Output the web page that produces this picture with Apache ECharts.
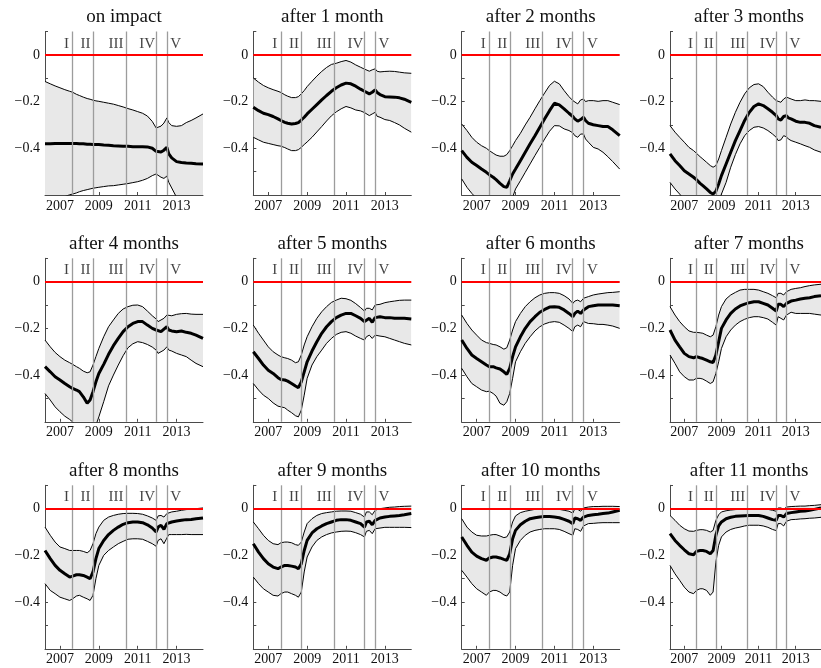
<!DOCTYPE html>
<html>
<head>
<meta charset="utf-8">
<script src="https://cdn.jsdelivr.net/npm/echarts@6/dist/echarts.min.js"></script>
<style>
  html, body { margin: 0; padding: 0; background: #ffffff; }
  #chart { width: 821px; height: 668px; }
</style>
</head>
<body>
<div id="chart"></div>
<script>
// Sample dates (decimal years) shared by every panel
const dates = [2006.23, 2006.5, 2006.75, 2007.0, 2007.25, 2007.5, 2007.65, 2007.85, 2008.0, 2008.2,
  2008.4, 2008.55, 2008.7, 2008.85, 2009.0, 2009.25, 2009.5, 2009.75, 2010.0, 2010.25,
  2010.5, 2010.75, 2011.0, 2011.25, 2011.5, 2011.75, 2011.95, 2012.05, 2012.2, 2012.35,
  2012.5, 2012.6, 2012.75, 2013.0, 2013.25, 2013.5, 2013.75, 2014.0, 2014.36];

const titles = ['on impact', 'after 1 month', 'after 2 months', 'after 3 months',
  'after 4 months', 'after 5 months', 'after 6 months', 'after 7 months',
  'after 8 months', 'after 9 months', 'after 10 months', 'after 11 months'];

// Phase boundaries and their labels
const phaseLines = [2007.65, 2008.71, 2010.4, 2011.94, 2012.5];
const phaseNames = ['I', 'II', 'III', 'IV', 'V'];
const phaseLabelAt = [2007.34, 2008.32, 2009.88, 2011.49, 2012.95];
const phaseLabelLevel = 0.048;

const xTicks = [2007, 2009, 2011, 2013];
const yTicks = [-0.6, -0.5, -0.4, -0.3, -0.2, -0.1, 0, 0.1];
const yLabels = [-0.4, -0.2, 0];

// Median response (mid), upper and lower band per horizon
const mid0 = [-0.381,-0.381,-0.380,-0.380,-0.379,-0.379,-0.379,-0.380,-0.381,-0.381,-0.383,-0.383,-0.384,-0.384,-0.384,-0.386,-0.387,-0.389,-0.390,-0.391,-0.391,-0.393,-0.393,-0.393,-0.394,-0.400,-0.413,-0.418,-0.416,-0.408,-0.396,-0.424,-0.441,-0.457,-0.461,-0.463,-0.464,-0.466,-0.467];
const up0 = [-0.114,-0.124,-0.133,-0.141,-0.149,-0.156,-0.160,-0.169,-0.174,-0.181,-0.187,-0.190,-0.194,-0.197,-0.199,-0.203,-0.207,-0.211,-0.217,-0.223,-0.230,-0.236,-0.243,-0.250,-0.262,-0.285,-0.313,-0.311,-0.305,-0.292,-0.270,-0.290,-0.303,-0.306,-0.303,-0.290,-0.281,-0.270,-0.253];
const lo0 = [-0.660,-0.645,-0.630,-0.618,-0.607,-0.599,-0.596,-0.591,-0.586,-0.581,-0.577,-0.574,-0.571,-0.569,-0.567,-0.564,-0.561,-0.560,-0.557,-0.554,-0.551,-0.547,-0.543,-0.537,-0.529,-0.517,-0.510,-0.514,-0.524,-0.529,-0.519,-0.546,-0.570,-0.610,-0.650,-0.680,-0.700,-0.720,-0.740];

const mid1 = [-0.224,-0.239,-0.250,-0.256,-0.264,-0.274,-0.281,-0.289,-0.293,-0.296,-0.294,-0.290,-0.279,-0.267,-0.253,-0.233,-0.213,-0.193,-0.174,-0.156,-0.141,-0.129,-0.121,-0.124,-0.134,-0.147,-0.156,-0.160,-0.167,-0.160,-0.150,-0.161,-0.170,-0.179,-0.180,-0.181,-0.184,-0.190,-0.203];
const up1 = [-0.099,-0.117,-0.131,-0.141,-0.149,-0.156,-0.161,-0.171,-0.177,-0.183,-0.183,-0.179,-0.167,-0.153,-0.136,-0.113,-0.091,-0.071,-0.054,-0.041,-0.036,-0.029,-0.024,-0.031,-0.043,-0.053,-0.061,-0.066,-0.070,-0.064,-0.060,-0.070,-0.073,-0.071,-0.070,-0.071,-0.074,-0.077,-0.079];
const lo1 = [-0.353,-0.364,-0.374,-0.379,-0.384,-0.389,-0.391,-0.397,-0.403,-0.410,-0.410,-0.406,-0.396,-0.384,-0.373,-0.353,-0.330,-0.307,-0.283,-0.261,-0.244,-0.231,-0.221,-0.227,-0.236,-0.240,-0.247,-0.253,-0.260,-0.253,-0.246,-0.263,-0.267,-0.277,-0.281,-0.290,-0.300,-0.314,-0.331];

const mid2 = [-0.410,-0.439,-0.460,-0.474,-0.489,-0.503,-0.513,-0.524,-0.534,-0.550,-0.564,-0.567,-0.539,-0.510,-0.489,-0.453,-0.417,-0.381,-0.346,-0.310,-0.274,-0.239,-0.207,-0.214,-0.231,-0.250,-0.264,-0.274,-0.284,-0.277,-0.267,-0.281,-0.293,-0.299,-0.303,-0.307,-0.307,-0.321,-0.346];
const up2 = [-0.296,-0.324,-0.353,-0.374,-0.389,-0.400,-0.410,-0.421,-0.429,-0.434,-0.434,-0.427,-0.410,-0.389,-0.367,-0.336,-0.300,-0.267,-0.231,-0.196,-0.163,-0.131,-0.113,-0.124,-0.153,-0.179,-0.196,-0.203,-0.210,-0.193,-0.189,-0.200,-0.196,-0.196,-0.199,-0.196,-0.196,-0.203,-0.213];
const lo2 = [-0.531,-0.567,-0.593,-0.615,-0.635,-0.650,-0.660,-0.675,-0.685,-0.700,-0.710,-0.705,-0.670,-0.610,-0.574,-0.539,-0.503,-0.467,-0.431,-0.396,-0.360,-0.327,-0.303,-0.304,-0.317,-0.324,-0.334,-0.346,-0.353,-0.339,-0.339,-0.360,-0.374,-0.396,-0.403,-0.417,-0.436,-0.457,-0.489];

const mid3 = [-0.424,-0.453,-0.474,-0.496,-0.510,-0.524,-0.534,-0.550,-0.560,-0.574,-0.589,-0.596,-0.584,-0.553,-0.517,-0.467,-0.417,-0.367,-0.324,-0.281,-0.246,-0.221,-0.210,-0.217,-0.231,-0.246,-0.260,-0.274,-0.279,-0.264,-0.260,-0.270,-0.274,-0.284,-0.289,-0.289,-0.293,-0.303,-0.310];
const up3 = [-0.303,-0.331,-0.353,-0.374,-0.396,-0.410,-0.421,-0.436,-0.446,-0.460,-0.474,-0.481,-0.474,-0.446,-0.410,-0.353,-0.296,-0.246,-0.203,-0.167,-0.141,-0.127,-0.124,-0.136,-0.160,-0.181,-0.196,-0.203,-0.203,-0.189,-0.181,-0.189,-0.189,-0.196,-0.196,-0.193,-0.196,-0.196,-0.199];
const lo3 = [-0.546,-0.574,-0.596,-0.620,-0.640,-0.660,-0.670,-0.685,-0.695,-0.710,-0.720,-0.720,-0.700,-0.630,-0.596,-0.546,-0.481,-0.427,-0.381,-0.346,-0.324,-0.310,-0.307,-0.313,-0.324,-0.339,-0.353,-0.367,-0.364,-0.346,-0.351,-0.360,-0.367,-0.374,-0.381,-0.389,-0.396,-0.407,-0.417];

const mid4 = [-0.364,-0.386,-0.407,-0.421,-0.436,-0.450,-0.457,-0.464,-0.471,-0.493,-0.521,-0.507,-0.471,-0.429,-0.393,-0.354,-0.311,-0.274,-0.243,-0.214,-0.193,-0.179,-0.171,-0.171,-0.186,-0.200,-0.207,-0.211,-0.214,-0.203,-0.193,-0.207,-0.211,-0.214,-0.211,-0.217,-0.221,-0.229,-0.243];
const up4 = [-0.250,-0.279,-0.303,-0.321,-0.336,-0.347,-0.354,-0.364,-0.371,-0.383,-0.390,-0.386,-0.357,-0.321,-0.286,-0.236,-0.193,-0.164,-0.136,-0.117,-0.107,-0.101,-0.100,-0.107,-0.126,-0.146,-0.160,-0.171,-0.164,-0.157,-0.143,-0.150,-0.146,-0.140,-0.137,-0.136,-0.139,-0.140,-0.140];
const lo4 = [-0.479,-0.507,-0.536,-0.557,-0.576,-0.590,-0.600,-0.620,-0.635,-0.650,-0.660,-0.660,-0.645,-0.615,-0.579,-0.514,-0.446,-0.400,-0.357,-0.317,-0.283,-0.266,-0.257,-0.261,-0.269,-0.280,-0.293,-0.307,-0.300,-0.293,-0.279,-0.293,-0.297,-0.307,-0.314,-0.321,-0.336,-0.350,-0.364];

const mid5 = [-0.300,-0.329,-0.357,-0.379,-0.393,-0.411,-0.419,-0.421,-0.426,-0.436,-0.447,-0.454,-0.429,-0.386,-0.343,-0.297,-0.257,-0.221,-0.193,-0.171,-0.154,-0.143,-0.136,-0.136,-0.146,-0.157,-0.171,-0.164,-0.157,-0.174,-0.154,-0.157,-0.150,-0.154,-0.154,-0.157,-0.157,-0.157,-0.160];
const up5 = [-0.186,-0.221,-0.250,-0.279,-0.300,-0.314,-0.321,-0.326,-0.329,-0.336,-0.347,-0.343,-0.314,-0.271,-0.236,-0.193,-0.157,-0.129,-0.107,-0.089,-0.079,-0.071,-0.073,-0.080,-0.094,-0.111,-0.126,-0.114,-0.114,-0.121,-0.100,-0.103,-0.097,-0.090,-0.086,-0.083,-0.080,-0.079,-0.079];
const lo5 = [-0.436,-0.464,-0.486,-0.500,-0.519,-0.533,-0.536,-0.540,-0.550,-0.561,-0.574,-0.579,-0.550,-0.486,-0.414,-0.357,-0.321,-0.293,-0.264,-0.243,-0.226,-0.217,-0.214,-0.221,-0.233,-0.243,-0.250,-0.236,-0.229,-0.243,-0.229,-0.231,-0.233,-0.236,-0.243,-0.250,-0.257,-0.264,-0.271];

const mid6 = [-0.250,-0.286,-0.314,-0.329,-0.343,-0.357,-0.364,-0.364,-0.369,-0.374,-0.386,-0.397,-0.371,-0.321,-0.279,-0.236,-0.200,-0.171,-0.150,-0.131,-0.119,-0.109,-0.107,-0.110,-0.121,-0.136,-0.150,-0.136,-0.126,-0.136,-0.121,-0.114,-0.107,-0.103,-0.100,-0.100,-0.100,-0.100,-0.103];
const up6 = [-0.143,-0.179,-0.207,-0.229,-0.250,-0.261,-0.264,-0.269,-0.271,-0.279,-0.289,-0.283,-0.250,-0.207,-0.171,-0.136,-0.107,-0.086,-0.069,-0.057,-0.050,-0.047,-0.047,-0.050,-0.060,-0.074,-0.093,-0.083,-0.079,-0.086,-0.071,-0.069,-0.064,-0.057,-0.053,-0.050,-0.047,-0.046,-0.043];
const lo6 = [-0.371,-0.407,-0.436,-0.450,-0.464,-0.471,-0.469,-0.479,-0.490,-0.521,-0.529,-0.514,-0.479,-0.414,-0.343,-0.300,-0.264,-0.236,-0.211,-0.193,-0.181,-0.174,-0.171,-0.174,-0.186,-0.200,-0.214,-0.193,-0.186,-0.193,-0.171,-0.176,-0.179,-0.180,-0.183,-0.183,-0.186,-0.190,-0.200];

const mid7 = [-0.207,-0.250,-0.279,-0.307,-0.321,-0.326,-0.321,-0.326,-0.329,-0.336,-0.343,-0.346,-0.314,-0.257,-0.200,-0.164,-0.136,-0.117,-0.104,-0.096,-0.090,-0.086,-0.086,-0.093,-0.100,-0.114,-0.126,-0.097,-0.097,-0.107,-0.093,-0.089,-0.083,-0.079,-0.074,-0.071,-0.069,-0.064,-0.060];
const up7 = [-0.107,-0.143,-0.171,-0.193,-0.211,-0.217,-0.217,-0.219,-0.221,-0.229,-0.236,-0.229,-0.193,-0.143,-0.107,-0.074,-0.057,-0.046,-0.036,-0.033,-0.033,-0.033,-0.036,-0.043,-0.050,-0.060,-0.069,-0.050,-0.050,-0.057,-0.043,-0.039,-0.033,-0.029,-0.026,-0.021,-0.017,-0.014,-0.011];
const lo7 = [-0.314,-0.350,-0.386,-0.407,-0.421,-0.421,-0.414,-0.414,-0.417,-0.426,-0.436,-0.429,-0.393,-0.343,-0.286,-0.236,-0.207,-0.186,-0.171,-0.161,-0.154,-0.150,-0.150,-0.154,-0.160,-0.174,-0.186,-0.150,-0.157,-0.164,-0.143,-0.136,-0.131,-0.136,-0.136,-0.136,-0.136,-0.139,-0.143];

const mid8 = [-0.179,-0.214,-0.243,-0.264,-0.279,-0.293,-0.289,-0.283,-0.283,-0.286,-0.293,-0.300,-0.271,-0.214,-0.171,-0.136,-0.111,-0.093,-0.079,-0.067,-0.060,-0.057,-0.057,-0.060,-0.069,-0.083,-0.100,-0.079,-0.071,-0.089,-0.064,-0.057,-0.057,-0.053,-0.050,-0.047,-0.046,-0.043,-0.040];
const up8 = [-0.079,-0.114,-0.143,-0.164,-0.171,-0.179,-0.179,-0.179,-0.179,-0.183,-0.189,-0.179,-0.150,-0.107,-0.079,-0.050,-0.036,-0.029,-0.024,-0.021,-0.020,-0.020,-0.021,-0.024,-0.031,-0.040,-0.050,-0.031,-0.029,-0.036,-0.021,-0.017,-0.014,-0.011,-0.007,-0.004,-0.003,0.000,0.003];
const lo8 = [-0.321,-0.350,-0.364,-0.379,-0.386,-0.393,-0.386,-0.374,-0.371,-0.379,-0.386,-0.393,-0.371,-0.300,-0.243,-0.200,-0.179,-0.164,-0.150,-0.140,-0.131,-0.129,-0.129,-0.131,-0.140,-0.150,-0.161,-0.136,-0.129,-0.150,-0.126,-0.111,-0.111,-0.111,-0.111,-0.110,-0.111,-0.111,-0.111];

const mid9 = [-0.150,-0.186,-0.214,-0.236,-0.250,-0.257,-0.250,-0.243,-0.243,-0.246,-0.250,-0.257,-0.236,-0.179,-0.136,-0.104,-0.086,-0.074,-0.064,-0.057,-0.050,-0.047,-0.047,-0.050,-0.057,-0.064,-0.079,-0.057,-0.054,-0.069,-0.050,-0.043,-0.040,-0.036,-0.033,-0.031,-0.029,-0.026,-0.021];
const up9 = [-0.057,-0.086,-0.114,-0.136,-0.150,-0.154,-0.146,-0.143,-0.143,-0.146,-0.154,-0.157,-0.143,-0.100,-0.064,-0.043,-0.029,-0.021,-0.017,-0.014,-0.011,-0.010,-0.010,-0.011,-0.017,-0.024,-0.036,-0.014,-0.014,-0.026,-0.007,-0.003,0.000,0.003,0.006,0.007,0.009,0.010,0.011];
const lo9 = [-0.293,-0.321,-0.343,-0.357,-0.371,-0.374,-0.364,-0.357,-0.357,-0.364,-0.371,-0.379,-0.357,-0.271,-0.207,-0.164,-0.136,-0.121,-0.111,-0.104,-0.100,-0.097,-0.096,-0.097,-0.103,-0.111,-0.121,-0.097,-0.093,-0.107,-0.086,-0.083,-0.083,-0.080,-0.080,-0.080,-0.080,-0.080,-0.081];

const mid10 = [-0.121,-0.157,-0.186,-0.203,-0.214,-0.221,-0.211,-0.207,-0.207,-0.211,-0.217,-0.221,-0.193,-0.129,-0.093,-0.069,-0.054,-0.043,-0.039,-0.036,-0.034,-0.034,-0.036,-0.039,-0.046,-0.054,-0.064,-0.040,-0.043,-0.050,-0.036,-0.031,-0.029,-0.026,-0.024,-0.021,-0.019,-0.014,-0.007];
const up10 = [-0.043,-0.079,-0.100,-0.114,-0.117,-0.117,-0.114,-0.111,-0.111,-0.117,-0.124,-0.121,-0.100,-0.057,-0.031,-0.017,-0.011,-0.007,-0.003,-0.001,0.000,0.000,0.000,-0.003,-0.007,-0.011,-0.019,0.000,-0.003,-0.011,0.003,0.006,0.007,0.009,0.009,0.010,0.010,0.010,0.009];
const lo10 = [-0.264,-0.293,-0.321,-0.343,-0.357,-0.371,-0.357,-0.350,-0.350,-0.357,-0.369,-0.374,-0.357,-0.243,-0.171,-0.136,-0.114,-0.100,-0.093,-0.089,-0.086,-0.086,-0.086,-0.089,-0.097,-0.107,-0.114,-0.086,-0.089,-0.097,-0.074,-0.069,-0.064,-0.063,-0.061,-0.060,-0.060,-0.060,-0.060];

const mid11 = [-0.107,-0.136,-0.157,-0.176,-0.193,-0.197,-0.183,-0.179,-0.179,-0.183,-0.193,-0.179,-0.114,-0.074,-0.057,-0.043,-0.037,-0.033,-0.031,-0.030,-0.029,-0.029,-0.029,-0.033,-0.040,-0.047,-0.050,-0.029,-0.029,-0.036,-0.021,-0.019,-0.017,-0.014,-0.011,-0.010,-0.007,-0.003,0.003];
const up11 = [-0.029,-0.050,-0.071,-0.086,-0.096,-0.097,-0.093,-0.090,-0.090,-0.093,-0.100,-0.093,-0.050,-0.026,-0.014,-0.009,-0.006,-0.004,-0.003,-0.001,0.000,0.000,0.000,0.000,-0.003,-0.007,-0.011,0.003,0.003,-0.003,0.007,0.007,0.009,0.010,0.011,0.011,0.013,0.014,0.017];
const lo11 = [-0.243,-0.279,-0.307,-0.336,-0.357,-0.364,-0.350,-0.343,-0.343,-0.350,-0.371,-0.357,-0.229,-0.157,-0.121,-0.100,-0.089,-0.083,-0.079,-0.074,-0.071,-0.071,-0.071,-0.074,-0.080,-0.089,-0.094,-0.064,-0.064,-0.074,-0.054,-0.050,-0.047,-0.046,-0.044,-0.043,-0.041,-0.040,-0.037];

const mids = [mid0, mid1, mid2, mid3, mid4, mid5, mid6, mid7, mid8, mid9, mid10, mid11];
const ups = [up0, up1, up2, up3, up4, up5, up6, up7, up8, up9, up10, up11];
const los = [lo0, lo1, lo2, lo3, lo4, lo5, lo6, lo7, lo8, lo9, lo10, lo11];

// Layout of the 3 x 4 panel grid (pixels)
const colLeft = [45, 253.3, 461.7, 670];
const rowTop = [31.5, 258.3, 485.3];
const plotW = 158, plotH = 163.5;
const xMin = 2006.23, xMax = 2014.36;
const FONT = '"Liberation Serif", "Times New Roman", serif';
const AXIS_COLOR = '#4a4a4a';

const pair = arr => dates.map((d, k) => [d, arr[k]]);
const fmtY = v => (Math.abs(v) < 1e-9 ? '0' : (v < 0 ? '\u2212' : '') + Math.abs(v).toFixed(1));

// Shaded confidence band: one polygon through the upper edge and back along the lower edge
function bandRenderer(lo, up) {
  return function (params, api) {
    if (params.dataIndex !== 0) return null;
    const pts = [];
    for (let k = 0; k < dates.length; k++) pts.push(api.coord([dates[k], up[k]]));
    for (let k = dates.length - 1; k >= 0; k--) pts.push(api.coord([dates[k], lo[k]]));
    const cs = params.coordSys;
    return {
      type: 'group',
      clipPath: { type: 'rect', shape: { x: cs.x, y: cs.y, width: cs.width, height: cs.height } },
      children: [{ type: 'polygon', shape: { points: pts }, style: { fill: '#e8e8e8', stroke: null } }]
    };
  };
}

const grids = [], xAxes = [], yAxes = [], series = [], texts = [];

for (let i = 0; i < 12; i++) {
  const r = Math.floor(i / 4), c = i % 4;
  grids.push({ left: colLeft[c], top: rowTop[r], width: plotW, height: plotH });

  xAxes.push({
    gridIndex: i, type: 'value', min: xMin, max: xMax,
    axisLine: { show: true, onZero: false, lineStyle: { color: AXIS_COLOR, width: 1 } },
    axisTick: { show: true, inside: true, length: 3, customValues: xTicks, lineStyle: { color: AXIS_COLOR } },
    axisLabel: { customValues: xTicks, formatter: v => String(Math.round(v)), color: '#111',
      fontFamily: FONT, fontSize: 14, margin: 4 },
    splitLine: { show: false }
  });
  yAxes.push({
    gridIndex: i, type: 'value', min: -0.6, max: 0.1,
    axisLine: { show: true, onZero: false, lineStyle: { color: AXIS_COLOR, width: 1 } },
    axisTick: { show: true, inside: true, length: 3, customValues: yTicks, lineStyle: { color: AXIS_COLOR } },
    axisLabel: { customValues: yLabels, formatter: fmtY, color: '#111',
      fontFamily: FONT, fontSize: 14, margin: 5 },
    splitLine: { show: false }
  });

  const lo = los[i], up = ups[i], mid = mids[i];

  series.push({
    type: 'custom', xAxisIndex: i, yAxisIndex: i, silent: true, z: 1,
    data: dates.map((d, k) => [d, lo[k], up[k]]),
    encode: { x: 0, y: [1, 2] },
    renderItem: bandRenderer(lo, up)
  });
  // band edges, with the phase boundaries drawn alongside
  series.push({
    type: 'line', xAxisIndex: i, yAxisIndex: i, data: pair(up), symbol: 'none',
    lineStyle: { color: '#000', width: 1 }, silent: true, z: 3,
    markLine: {
      silent: true, symbol: ['none', 'none'], label: { show: false },
      lineStyle: { color: '#9c9c9c', width: 1.3, type: 'solid' },
      data: phaseLines.map(x => ({ xAxis: x }))
    }
  });
  series.push({
    type: 'line', xAxisIndex: i, yAxisIndex: i, data: pair(lo), symbol: 'none',
    lineStyle: { color: '#000', width: 1 }, silent: true, z: 3
  });
  // median response and the zero reference
  series.push({
    type: 'line', xAxisIndex: i, yAxisIndex: i, data: pair(mid), symbol: 'none',
    lineStyle: { color: '#000', width: 3 }, silent: true, z: 4,
    markLine: {
      silent: true, symbol: ['none', 'none'], label: { show: false },
      lineStyle: { color: '#ff0000', width: 2, type: 'solid' },
      data: [{ yAxis: 0 }]
    }
  });
  // phase names
  series.push({
    type: 'scatter', xAxisIndex: i, yAxisIndex: i, symbolSize: 0, silent: true, z: 5,
    data: phaseLabelAt.map((x, k) => ({ value: [x, phaseLabelLevel], name: phaseNames[k] })),
    label: { show: true, position: 'inside', formatter: p => p.name, color: '#111',
      fontFamily: FONT, fontSize: 15 }
  });

  texts.push({
    type: 'text', silent: true,
    x: colLeft[c] + plotW / 2, y: rowTop[r] - 14,
    style: { text: titles[i], fill: '#111', font: '19px ' + FONT,
      textAlign: 'center', textVerticalAlign: 'middle' }
  });
}

const chart = echarts.init(document.getElementById('chart'), null, { renderer: 'canvas' });
chart.setOption({
  animation: false,
  backgroundColor: '#ffffff',
  grid: grids,
  xAxis: xAxes,
  yAxis: yAxes,
  series: series,
  graphic: texts
});
</script>
</body>
</html>
